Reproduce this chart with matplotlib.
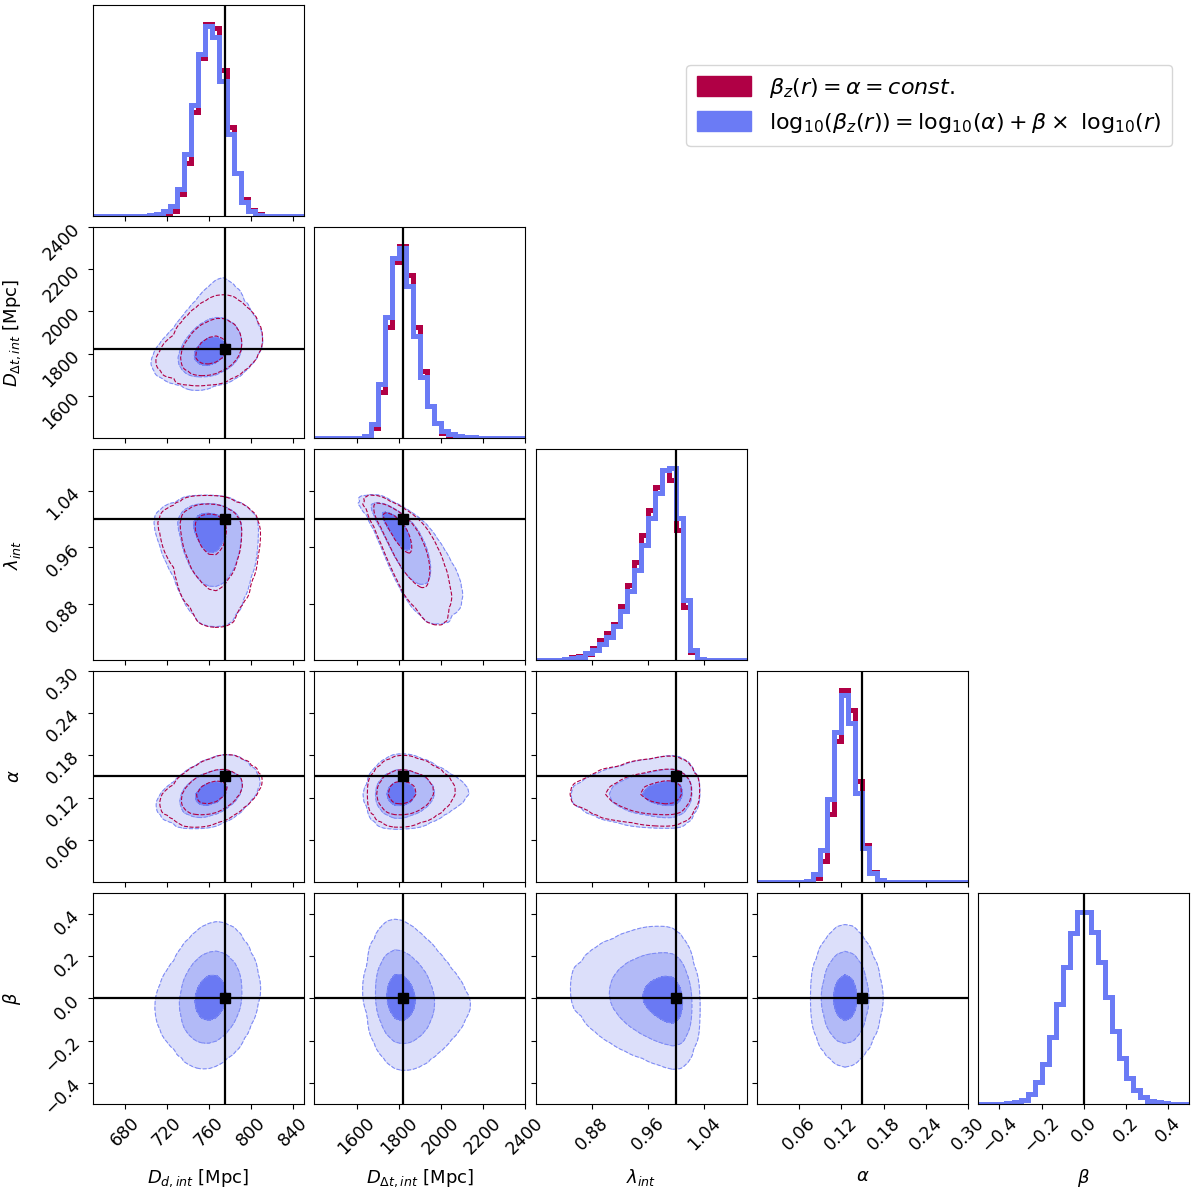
import math
import numpy as np
import matplotlib
matplotlib.use("Agg")
import matplotlib.pyplot as plt
from matplotlib.patches import Patch

# parameter names, ranges and true values
labels = [r"$D_{d,int}$ [Mpc]", r"$D_{\Delta t,int}$ [Mpc]", r"$\lambda_{int}$", r"$\alpha$", r"$\beta$"]
ranges = [(650, 850), (1400, 2400), (0.80, 1.10), (0.0, 0.30), (-0.5, 0.5)]
truths = [775, 1822, 1.0, 0.15, 0.0]
ticks = [[680, 720, 760, 800, 840],
         [1600, 1800, 2000, 2200, 2400],
         [0.88, 0.96, 1.04],
         [0.06, 0.12, 0.18, 0.24, 0.30],
         [-0.4, -0.2, 0.0, 0.2, 0.4]]

# marginal histograms (30 bins over the range)
# model 1: beta_z = alpha = const (red)
hist_dd_red = [0, 0, 0, 0, 0, 0.001, 0.002, 0.003, 0.004, 0.008, 0.018, 0.03, 0.12, 0.28, 0.55,
               0.83, 1.01, 0.99, 0.77, 0.47, 0.23, 0.09, 0.035, 0.012, 0.004, 0.002, 0.001, 0, 0, 0]
hist_ddt_red = [0, 0, 0, 0, 0, 0, 0.001, 0.006, 0.055, 0.24, 0.58, 0.92, 1.0, 0.85, 0.58,
                0.35, 0.17, 0.077, 0.03, 0.012, 0.005, 0.003, 0.002, 0.002, 0.001, 0.001, 0.001, 0, 0, 0]
hist_lam_red = [0, 0, 0.001, 0.003, 0.006, 0.016, 0.022, 0.031, 0.063, 0.105, 0.14, 0.19, 0.283, 0.393, 0.511,
                0.651, 0.782, 0.9, 0.99, 0.94, 0.677, 0.276, 0.045, 0.003, 0.001, 0, 0, 0, 0, 0]
hist_alpha_red = [0, 0, 0, 0, 0, 0, 0, 0.002, 0.023, 0.115, 0.363, 0.756, 1.026, 0.921, 0.538,
                  0.197, 0.052, 0.014, 0.003, 0.001, 0, 0, 0, 0, 0, 0, 0, 0, 0, 0]

# model 2: log-linear beta_z (blue)
hist_dd_blue = [0, 0, 0, 0, 0, 0.001, 0.002, 0.003, 0.005, 0.012, 0.026, 0.052, 0.144, 0.33, 0.583,
                0.852, 1.0, 0.943, 0.713, 0.435, 0.23, 0.078, 0.026, 0.009, 0.004, 0.002, 0.001, 0, 0, 0]
hist_ddt_blue = [0, 0, 0, 0, 0, 0, 0.003, 0.01, 0.075, 0.28, 0.63, 0.94, 0.99, 0.79, 0.53,
                 0.32, 0.17, 0.08, 0.04, 0.02, 0.012, 0.007, 0.005, 0.004, 0.003, 0.002, 0.002, 0.001, 0.001, 0.001]
hist_lam_blue = [0, 0, 0.001, 0.003, 0.005, 0.014, 0.019, 0.035, 0.052, 0.084, 0.119, 0.18, 0.258, 0.358, 0.468,
                 0.602, 0.742, 0.869, 0.988, 1.0, 0.738, 0.311, 0.052, 0.004, 0.002, 0.001, 0, 0, 0, 0]
hist_alpha_blue = [0, 0, 0, 0, 0, 0, 0, 0.005, 0.044, 0.171, 0.442, 0.803, 1.0, 0.852, 0.476,
                   0.18, 0.049, 0.014, 0.003, 0.001, 0, 0, 0, 0, 0, 0, 0, 0, 0, 0]
hist_beta_blue = [0.001, 0.001, 0.002, 0.002, 0.004, 0.011, 0.023, 0.054, 0.114, 0.21, 0.347, 0.522, 0.711, 0.89, 1.0,
                  1.0, 0.898, 0.737, 0.557, 0.382, 0.238, 0.137, 0.075, 0.035, 0.018, 0.009, 0.004, 0.002, 0.001, 0.001]

hists_red = [hist_dd_red, hist_ddt_red, hist_lam_red, hist_alpha_red]
hists_blue = [hist_dd_blue, hist_ddt_blue, hist_lam_blue, hist_alpha_blue, hist_beta_blue]

# pairwise correlations (Dd, Ddt, lam, alpha, beta), estimated from the contour shapes
corr_dd = [1.0, 0.28, -0.10, 0.35, 0.15]
corr_ddt = [0.28, 1.0, -0.78, 0.05, -0.12]
corr_lam = [-0.10, -0.78, 1.0, 0.05, -0.15]
corr_alpha = [0.35, 0.05, 0.05, 1.0, 0.0]
corr_beta = [0.15, -0.12, -0.15, 0.0, 1.0]
corr = np.array([corr_dd, corr_ddt, corr_lam, corr_alpha, corr_beta])

red = "#B00045"
blue = "#6B7BF5"
fill_colors = ["#DCDFFA", "#B2BAF7", "#6A79F3"]
mass_levels = [0.989, 0.865, 0.393]

nbins = 30
ndim = 5

z_tab = np.linspace(-6, 6, 3001)
phi_tab = 0.5 * (1 + np.vectorize(math.erf)(z_tab / math.sqrt(2)))


def marginal(h, rng, x):
    edges = np.linspace(rng[0], rng[1], nbins + 1)
    centers = 0.5 * (edges[1:] + edges[:-1])
    pdf = np.interp(x, centers, h, left=0, right=0) + 1e-9
    cdf = np.cumsum(pdf)
    cdf = cdf / cdf[-1]
    z = np.interp(np.clip(cdf, 1e-7, 1 - 1e-7), phi_tab, z_tab)
    return pdf, z


def density2d(hx, hy, rx, ry, rho, n=200):
    x = np.linspace(rx[0], rx[1], n)
    y = np.linspace(ry[0], ry[1], n)
    fx, zx = marginal(hx, rx, x)
    fy, zy = marginal(hy, ry, y)
    ZX, ZY = np.meshgrid(zx, zy)
    FX, FY = np.meshgrid(fx, fy)
    cop = np.exp(-(rho ** 2 * (ZX ** 2 + ZY ** 2) - 2 * rho * ZX * ZY) / (2 * (1 - rho ** 2)))
    return x, y, FX * FY * cop


def thresholds(p):
    flat = np.sort(p.ravel())[::-1]
    cum = np.cumsum(flat)
    cum = cum / cum[-1]
    return [flat[np.searchsorted(cum, m)] for m in mass_levels]


fig, axes = plt.subplots(ndim, ndim, figsize=(12, 11.91), dpi=100)
fig.subplots_adjust(left=0.0775, right=0.991, top=0.9958, bottom=0.073, wspace=0.05, hspace=0.05)

for i in range(ndim):
    for j in range(ndim):
        ax = axes[i, j]
        if j > i:
            ax.set_visible(False)
            continue
        if i == j:
            edges = np.linspace(ranges[i][0], ranges[i][1], nbins + 1)
            centers = 0.5 * (edges[1:] + edges[:-1])
            top = max(hists_blue[i])
            if i < len(hists_red):
                ax.hist(centers, bins=edges, weights=hists_red[i], histtype="step", color=red, lw=3.6)
                top = max(top, max(hists_red[i]))
            ax.hist(centers, bins=edges, weights=hists_blue[i], histtype="step", color=blue, lw=3.6)
            ax.axvline(truths[i], color="black", lw=1.6)
            ax.set_ylim(0, 1.1 * top)
            ax.set_yticks([])
        else:
            x, y, p = density2d(hists_blue[j], hists_blue[i], ranges[j], ranges[i], corr[i, j])
            lv = thresholds(p)
            ax.contourf(x, y, p, levels=lv + [p.max() * 1.01], colors=fill_colors)
            ax.contour(x, y, p, levels=lv, colors="#7F8CF5", linestyles="--", linewidths=0.8)
            if i < len(hists_red) and j < len(hists_red):
                x, y, p = density2d(hists_red[j], hists_red[i], ranges[j], ranges[i], corr[i, j])
                ax.contour(x, y, p, levels=thresholds(p), colors=red, linestyles="--", linewidths=0.8)
            ax.axvline(truths[j], color="black", lw=1.6)
            ax.axhline(truths[i], color="black", lw=1.6)
            ax.plot(truths[j], truths[i], "s", color="black", ms=7)
            ax.set_ylim(ranges[i])
            ax.set_yticks(ticks[i])
            if j == 0:
                ax.set_ylabel(labels[i], fontsize=13)
                ax.yaxis.set_label_coords(-0.33, 0.5)
                for l in ax.get_yticklabels():
                    l.set_rotation(45)
                    l.set_fontsize(12.5)
            else:
                ax.set_yticklabels([])
        ax.set_xlim(ranges[j])
        ax.set_xticks(ticks[j])
        if i == ndim - 1:
            ax.set_xlabel(labels[j], fontsize=13)
            ax.xaxis.set_label_coords(0.5, -0.3)
            for l in ax.get_xticklabels():
                l.set_rotation(45)
                l.set_fontsize(12.5)
        else:
            ax.set_xticklabels([])

handles = [Patch(color=red, label=r"$\beta_z(r) = \alpha = const.$"),
           Patch(color=blue, label=r"$\mathrm{log}_{10}(\beta_z(r)) = \mathrm{log}_{10}(\alpha) + \beta \times\ \mathrm{log}_{10}(r)$")]
fig.legend(handles=handles, loc="upper right", bbox_to_anchor=(0.986, 0.955), fontsize=16,
           handlelength=2.4, handleheight=1.0, borderpad=0.5, labelspacing=0.5)

fig.savefig("out.png", dpi=100)
